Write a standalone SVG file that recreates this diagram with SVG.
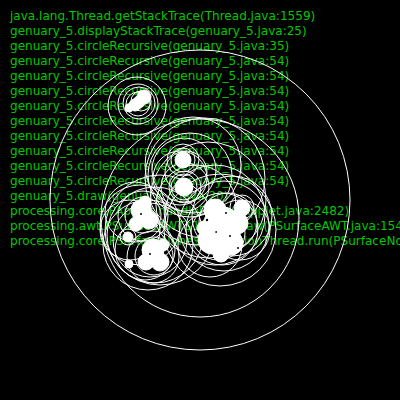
<svg xmlns="http://www.w3.org/2000/svg" width="400" height="400" viewBox="0 0 400 400">
<style>
.t{font-family:"DejaVu Sans",sans-serif;font-size:12.05px;fill:#00c800}
.c{fill:none;stroke:#fff;stroke-width:1}
.b{fill:#fff;stroke:#fff;stroke-width:1}
.k{fill:#000}
</style>
<rect width="400" height="400" fill="#000"/>
<g id="trace">
<text class="t" x="10" y="20">java.lang.Thread.getStackTrace(Thread.java:1559)</text>
<text class="t" x="10" y="35">genuary_5.displayStackTrace(genuary_5.java:25)</text>
<text class="t" x="10" y="50">genuary_5.circleRecursive(genuary_5.java:35)</text>
<text class="t" x="10" y="65">genuary_5.circleRecursive(genuary_5.java:54)</text>
<text class="t" x="10" y="80">genuary_5.circleRecursive(genuary_5.java:54)</text>
<text class="t" x="10" y="95">genuary_5.circleRecursive(genuary_5.java:54)</text>
<text class="t" x="10" y="110">genuary_5.circleRecursive(genuary_5.java:54)</text>
<text class="t" x="10" y="125">genuary_5.circleRecursive(genuary_5.java:54)</text>
<text class="t" x="10" y="140">genuary_5.circleRecursive(genuary_5.java:54)</text>
<text class="t" x="10" y="155">genuary_5.circleRecursive(genuary_5.java:54)</text>
<text class="t" x="10" y="170">genuary_5.circleRecursive(genuary_5.java:54)</text>
<text class="t" x="10" y="185">genuary_5.circleRecursive(genuary_5.java:54)</text>
<text class="t" x="10" y="200">genuary_5.draw(genuary_5.java:20)</text>
<text class="t" x="10" y="215">processing.core.PApplet.handleDraw(PApplet.java:2482)</text>
<text class="t" x="10" y="230">processing.awt.PSurfaceAWT$12.callDraw(PSurfaceAWT.java:1547)</text>
<text class="t" x="10" y="245">processing.core.PSurfaceNone$AnimationThread.run(PSurfaceNone.java:316)</text>
</g>
<g id="circles">
<circle class="c" cx="200" cy="200" r="150"/>
<circle class="c" cx="200" cy="218" r="99"/>
<!-- top-left group -->
<circle class="c" cx="137" cy="106" r="29"/>
<circle class="c" cx="138" cy="104" r="20"/>
<circle class="c" cx="139" cy="103" r="16"/>
<circle class="c" cx="141" cy="101" r="10"/>
<circle class="c" cx="138" cy="104" r="12"/>
<circle class="b" cx="144" cy="97" r="7"/>
<circle class="b" cx="139" cy="102" r="6"/>
<circle class="b" cx="135" cy="105" r="6"/>
<circle class="b" cx="129" cy="108" r="4"/>
<!-- middle column -->
<circle class="c" cx="205" cy="178" r="60"/>
<circle class="c" cx="208" cy="200" r="58"/>
<circle class="c" cx="193" cy="165" r="48"/>
<circle class="c" cx="190" cy="175" r="42"/>
<circle class="c" cx="184" cy="170" r="32"/>
<circle class="c" cx="180" cy="178" r="27"/>
<circle class="c" cx="186" cy="172" r="21"/>
<circle class="c" cx="183" cy="160" r="16"/>
<circle class="c" cx="183" cy="160" r="12"/>
<circle class="b" cx="183" cy="160" r="8"/>
<circle class="c" cx="185" cy="187" r="24"/>
<circle class="c" cx="185" cy="187" r="16"/>
<circle class="c" cx="184" cy="187" r="13"/>
<circle class="b" cx="184" cy="187" r="9"/>
<!-- right cluster -->
<circle class="c" cx="220" cy="230" r="56"/>
<circle class="c" cx="215" cy="215" r="50"/>
<circle class="c" cx="224" cy="226" r="45"/>
<circle class="c" cx="196" cy="205" r="40"/>
<circle class="c" cx="232" cy="216" r="40"/>
<circle class="c" cx="222" cy="229" r="36"/>
<circle class="c" cx="210" cy="245" r="32"/>
<circle class="c" cx="240" cy="230" r="30"/>
<circle class="c" cx="228" cy="222" r="29"/>
<circle class="c" cx="218" cy="233" r="27"/>
<circle class="c" cx="242" cy="207" r="12"/>
<circle class="b" cx="242" cy="208" r="8"/>
<circle class="b" cx="222" cy="226" r="19"/>
<circle class="b" cx="212" cy="240" r="14"/>
<circle class="b" cx="231" cy="243" r="12"/>
<circle class="b" cx="215" cy="210" r="11"/>
<circle class="b" cx="237" cy="223" r="11"/>
<circle class="b" cx="221" cy="254" r="8"/>
<circle class="b" cx="204" cy="228" r="7"/>
<circle class="k" cx="207" cy="220" r="1.2"/>
<circle class="k" cx="230" cy="236" r="1"/>
<circle class="k" cx="216" cy="232" r="1"/>
<circle class="k" cx="226" cy="213" r="1"/>
<circle class="k" cx="238" cy="248" r="1"/>
<!-- left cluster -->
<circle class="c" cx="160" cy="230" r="55"/>
<circle class="c" cx="155" cy="235" r="48"/>
<circle class="c" cx="148" cy="245" r="45"/>
<circle class="c" cx="140" cy="225" r="40"/>
<circle class="c" cx="150" cy="240" r="37"/>
<circle class="c" cx="130" cy="230" r="30"/>
<circle class="c" cx="135" cy="212" r="30"/>
<circle class="c" cx="145" cy="250" r="30"/>
<circle class="c" cx="143" cy="216" r="25"/>
<circle class="c" cx="143" cy="215" r="18"/>
<circle class="c" cx="153" cy="257" r="26"/>
<circle class="c" cx="154" cy="256" r="19"/>
<circle class="c" cx="128" cy="237" r="8"/>
<circle class="b" cx="141" cy="210" r="10"/>
<circle class="b" cx="149" cy="220" r="9"/>
<circle class="b" cx="136" cy="224" r="7"/>
<circle class="b" cx="145" cy="202" r="6"/>
<circle class="b" cx="153" cy="250" r="11"/>
<circle class="b" cx="160" cy="262" r="9"/>
<circle class="b" cx="146" cy="262" r="8"/>
<circle class="b" cx="163" cy="245" r="6"/>
<circle class="b" cx="128" cy="237" r="5"/>
<circle class="b" cx="129" cy="264" r="4"/>
<circle class="k" cx="150" cy="254" r="1"/>
<circle class="k" cx="141" cy="214" r="1"/>
</g>
</svg>
